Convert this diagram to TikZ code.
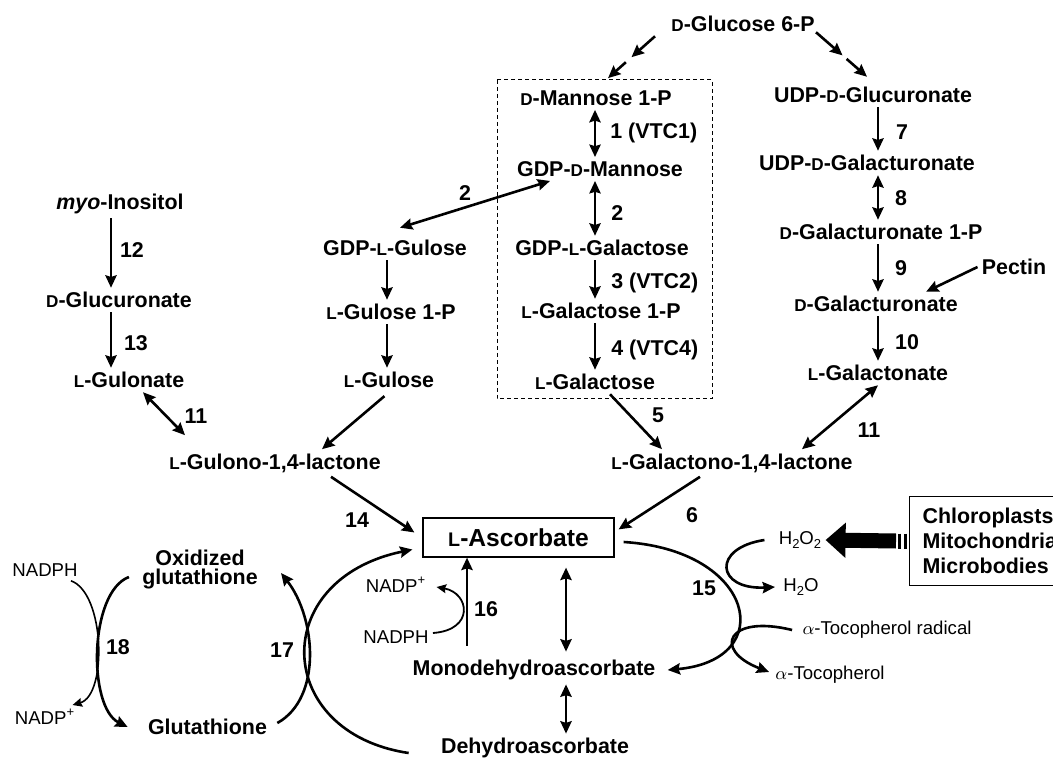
\documentclass[tikz,border=0pt]{standalone}
\usepackage{fontspec}
\setmainfont{Liberation Sans}
\usetikzlibrary{arrows.meta}
\newcommand{\smc}[1]{\scalebox{0.8}{#1}}
\newcommand{\sub}[1]{\raisebox{-0.45ex}{\fontsize{6.5}{7}\selectfont #1}}
\tikzset{
  mol/.style={font=\bfseries\fontsize{10.7}{12}\selectfont, inner sep=2pt},
  num/.style={font=\bfseries\fontsize{10.7}{12}\selectfont, inner sep=0pt},
  cof/.style={font=\fontsize{9.3}{11}\selectfont, inner sep=2pt},
  arr/.style={line width=1.3pt, -{Stealth[length=6.2pt,width=5.6pt,inset=0.8pt]}},
  darr/.style={line width=1.3pt, {Stealth[length=6.2pt,width=5.6pt,inset=0.8pt]}-{Stealth[length=6.2pt,width=5.6pt,inset=0.8pt]}},
  tarr/.style={line width=0.8pt, -{Stealth[length=4.8pt,width=4.4pt,inset=0.6pt]}},
  dbox/.style={line width=0.5pt, dash pattern=on 2pt off 1.5pt},
}
\begin{document}
\begin{tikzpicture}[x=0.5pt,y=-0.5pt]
\clip (0,0) rectangle (1053,758);

\node[mol] (glc) at (743,24) {\smc{D}-Glucose 6-P};
\node[mol] (man1p) at (596,98) {\smc{D}-Mannose 1-P};
\node[mol] (gdpman) at (600,169) {GDP-\smc{D}-Mannose};
\node[mol] (gdpgal) at (602,248) {GDP-\smc{L}-Galactose};
\node[mol] (gal1p) at (601,311) {\smc{L}-Galactose 1-P};
\node[mol] (gal) at (595,382) {\smc{L}-Galactose};
\node[mol] (galL) at (732,463) {\smc{L}-Galactono-1,4-lactone};
\node[mol] (udpglc) at (873,95) {UDP-\smc{D}-Glucuronate};
\node[mol] (udpgalA) at (867,163) {UDP-\smc{D}-Galacturonate};
\node[mol] (galA1p) at (881,232) {\smc{D}-Galacturonate 1-P};
\node[mol] (galA) at (876,304) {\smc{D}-Galacturonate};
\node[mol] (galn) at (878,373) {\smc{L}-Galactonate};
\node[mol] (pectin) at (1014,267) {Pectin};
\node[mol] (myo) at (120,204) {\textit{myo}-Inositol};
\node[mol] (glcA) at (119,300) {\smc{D}-Glucuronate};
\node[mol] (guln) at (129,380) {\smc{L}-Gulonate};
\node[mol] (gulL) at (275,463) {\smc{L}-Gulono-1,4-lactone};
\node[mol] (gdpgul) at (395,248) {GDP-\smc{L}-Gulose};
\node[mol] (gul1p) at (391,312) {\smc{L}-Gulose 1-P};
\node[mol] (gul) at (389,380) {\smc{L}-Gulose};

\node[draw, line width=0.6pt, font=\bfseries\fontsize{12.3}{14}\selectfont, minimum width=95.5pt, minimum height=19.5pt, inner sep=0pt] (asc) at (518.5,537.5) {\smc{L}-Ascorbate};
\node[mol] (mda) at (534,670) {Monodehydroascorbate};
\node[mol] (dha) at (535,748) {Dehydroascorbate};
\node[mol, align=center, font=\bfseries\fontsize{10.7}{9.5}\selectfont] (oxg) at (200,570) {Oxidized\\glutathione};
\node[mol] (glut) at (207.5,727) {Glutathione};

\node[cof] (nadph1) at (45,570) {NADPH};
\node[cof] (nadp1) at (45,717) {NADP\textsuperscript{+}};
\node[cof] (nadp2) at (396,585) {NADP\textsuperscript{+}};
\node[cof] (nadph2) at (396,637) {NADPH};
\node[cof] (h2o2) at (800,540) {H\sub{2}O\sub{2}};
\node[cof] (h2o) at (801,587) {H\sub{2}O};
\node[cof] (tocr) at (887,630) {$\alpha$-Tocopherol radical};
\node[cof] (toc) at (830,675) {$\alpha$-Tocopherol};
\node[draw, line width=0.6pt, mol, font=\bfseries\fontsize{10.7}{12.5}\selectfont, align=left, anchor=west, inner xsep=6.5pt, text width=66pt, minimum height=44.5pt] (cmb) at (909,541) {Chloroplasts\\Mitochondria\\Microbodies};

\draw[dbox] (497,80) rectangle (712,399);

\coordinate (cL) at (111,0);
\coordinate (cG) at (387,0);
\coordinate (cV) at (595,0);
\coordinate (cU) at (878,0);

\path ([xshift=-6pt]glc.south west) -- coordinate[pos=0.5] (g1) coordinate[pos=0.62] (g2) ([xshift=6pt,yshift=4pt]man1p.north);
\draw[arr] ([xshift=-6pt]glc.south west) -- (g1);
\draw[arr] (g2) -- ([xshift=6pt,yshift=4pt]man1p.north);
\path ([xshift=-1.5pt,yshift=2pt]glc.south east) -- coordinate[pos=0.52] (g3) coordinate[pos=0.6] (g4) ([xshift=-3pt,yshift=3pt]udpglc.north);
\draw[arr] ([xshift=-1.5pt,yshift=2pt]glc.south east) -- (g3);
\draw[arr] (g4) -- ([xshift=-3pt,yshift=3pt]udpglc.north);

\draw[arr] (myo.south -| cL) -- (glcA.north -| cL);
\draw[arr] (glcA.south -| cL) -- (guln.north -| cL);
\draw[arr] (gdpgul.south -| cG) -- (gul1p.north -| cG);
\draw[arr] (gul1p.south -| cG) -- (gul.north -| cG);
\draw[darr] (man1p.south -| cV) -- (gdpman.north -| cV);
\draw[darr] (gdpman.south -| cV) -- (gdpgal.north -| cV);
\draw[arr] (gdpgal.south -| cV) -- (gal1p.north -| cV);
\draw[arr] (gal1p.south -| cV) -- (gal.north -| cV);
\draw[arr] (udpglc.south -| cU) -- (udpgalA.north -| cU);
\draw[darr] (udpgalA.south -| cU) -- (galA1p.north -| cU);
\draw[arr] (galA1p.south -| cU) -- (galA.north -| cU);
\draw[arr] (galA.south -| cU) -- (galn.north -| cU);
\draw[arr] (pectin.west) -- ([xshift=-18pt]galA.north east);

\draw[darr] ([xshift=2.5pt,yshift=4pt]gdpgul.north) -- ([xshift=-25pt]gdpman.south);
\draw[arr, shorten <=3pt] (gul.south) -- ([xshift=23.5pt]gulL.north);
\draw[arr] ([xshift=7.5pt]gal.south) -- ([xshift=-35pt]galL.north);
\draw[darr] (galn.south) -- ([xshift=35pt]galL.north);
\draw[darr] ([xshift=7pt]guln.south) -- ([xshift=-45pt,yshift=7pt]gulL.north);
\draw[arr] ([xshift=28pt]gulL.south) -- ([xshift=-4pt,yshift=2.5pt]asc.west);
\draw[arr] ([xshift=-16pt]galL.south) -- ([xshift=2pt,yshift=-6pt]asc.north east);

\coordinate (m16) at ([xshift=-33.5pt]mda.north);
\coordinate (m2) at ([xshift=16pt]mda.north);
\draw[arr, shorten <=5pt] (m16) -- (m16 |- asc.south);
\draw[darr, shorten <=2pt, shorten >=5pt] (m2) -- (m2 |- asc.south);
\draw[darr] ([xshift=16pt]mda.south) -- ([xshift=15.5pt]dha.north);

\draw[tarr] ([xshift=-5.5pt]nadph1.south east) .. controls +(34,12) and +(35,-10) .. ([xshift=-3.5pt]nadp1.north east);
\draw[arr] ([xshift=-4.5pt,yshift=-3.5pt]oxg.west) .. controls +(-40,15) and +(-40,-20) .. ([xshift=-8pt]glut.west);
\draw[arr] ([xshift=3pt,yshift=2pt]glut.east) .. controls +(45,-25) and +(35,45) .. ([xshift=9.5pt,yshift=-1.5pt]oxg.east);
\draw[arr] ([xshift=-14pt,yshift=-2.5pt]dha.west) .. controls +(-135,-20) and +(-145,30) .. ([xshift=-5pt,yshift=-6pt]asc.west);
\draw[tarr, line width=0.9pt] ([yshift=2pt]nadph2.east) .. controls +(42,-3) and +(33,6) .. ([xshift=3pt,yshift=-1pt]nadp2.east);

\draw[arr] ([xshift=4.5pt,yshift=-2.25pt]asc.east) .. controls +(132,8) and +(111,-10) .. ([xshift=4pt]mda.east);
\draw[arr] ([xshift=-5pt]h2o2.west) .. controls +(-53,8) and +(-59,3) .. ([xshift=-2pt]h2o.west);
\draw[arr] ([xshift=-3pt]tocr.west) .. controls +(-65,-16) and +(-57,-22) .. ([xshift=-1pt,yshift=1.5pt]toc.west);

\draw[line width=7.5pt, -{Triangle[length=10pt,width=17pt]}] ([xshift=-6.5pt]cmb.west) -- (h2o2.east);
\draw[line width=1.75pt] ([xshift=-4.7pt,yshift=3.75pt]cmb.west) -- ([xshift=-4.7pt,yshift=-3.75pt]cmb.west);
\draw[line width=1.5pt] ([xshift=-2pt,yshift=3.75pt]cmb.west) -- ([xshift=-2pt,yshift=-3.75pt]cmb.west);

\node[num, anchor=west] (l1) at (610,133) {1 (VTC1)};
\node[num, anchor=west] (l2a) at (611,213) {2};
\node[num, anchor=west] (l3) at (611,283) {3 (VTC2)};
\node[num, anchor=west] (l4) at (611,350) {4 (VTC4)};
\node[num] (l2b) at (465,193) {2};
\node[num] (l5) at (658,415) {5};
\node[num] (l6) at (692,515) {6};
\node[num] (l7) at (902,132) {7};
\node[num] (l8) at (901,198) {8};
\node[num] (l9) at (901,268) {9};
\node[num] (l10) at (907,342) {10};
\node[num] (l11a) at (869,430) {11};
\node[num] (l11b) at (196,416) {11};
\node[num] (l12) at (132,250) {12};
\node[num] (l13) at (136,343) {13};
\node[num] (l14) at (357,520) {14};
\node[num] (l15) at (704,588) {15};
\node[num] (l16) at (486,609) {16};
\node[num] (l17) at (282,650) {17};
\node[num] (l18) at (118,647) {18};
\end{tikzpicture}
\end{document}
